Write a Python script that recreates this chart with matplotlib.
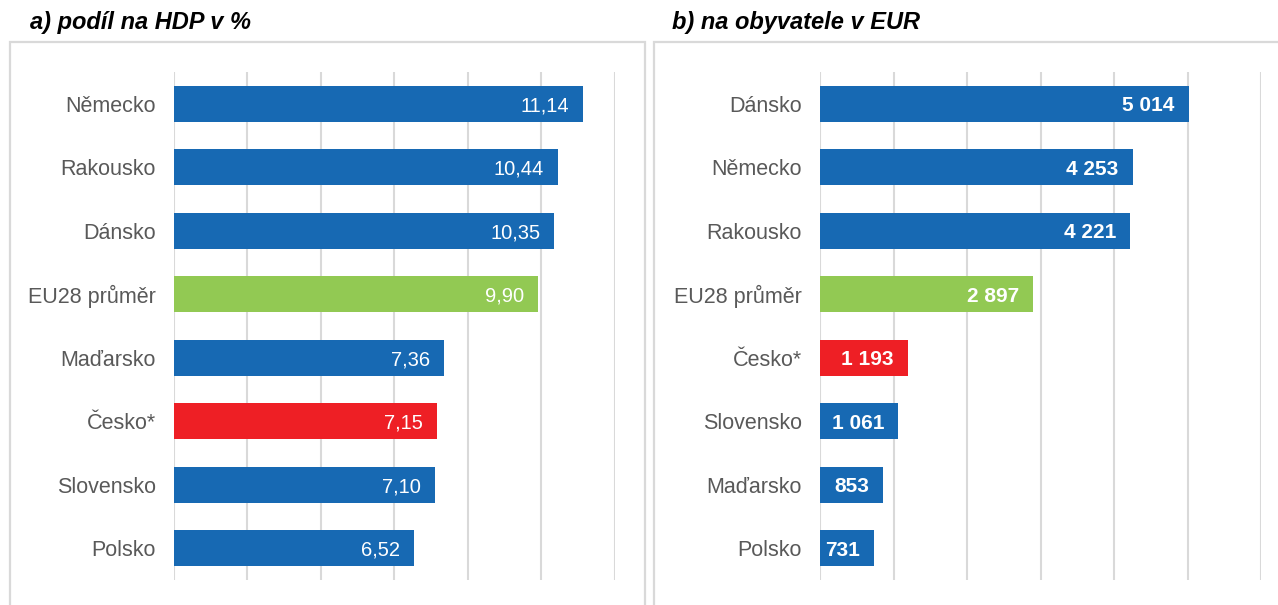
import matplotlib.pyplot as plt
from matplotlib.patches import Rectangle

plt.rcParams['font.family'] = ['Liberation Sans', 'DejaVu Sans']

# a) share of GDP in %
hdp_labels = ['Německo', 'Rakousko', 'Dánsko', 'EU28 průměr',
              'Maďarsko', 'Česko*', 'Slovensko', 'Polsko']
hdp_values = [11.14, 10.44, 10.35, 9.90, 7.36, 7.15, 7.10, 6.52]

# b) per capita in EUR
eur_labels = ['Dánsko', 'Německo', 'Rakousko', 'EU28 průměr',
              'Česko*', 'Slovensko', 'Maďarsko', 'Polsko']
eur_values = [5014, 4253, 4221, 2897, 1193, 1061, 853, 731]

BLUE = '#1769b3'
GREEN = '#92c953'
RED = '#ee1f25'
GRID = '#d9d9d9'


def bar_color(name):
    if name.startswith('EU28'):
        return GREEN
    if name.startswith('Česko'):
        return RED
    return BLUE


W, H = 1278, 605
fig = plt.figure(figsize=(W / 100, H / 100), dpi=100)


def px_axes(x0, x1, y0, y1):
    return fig.add_axes([x0 / W, 1 - y1 / H, (x1 - x0) / W, (y1 - y0) / H])


# panel frames
for x0, x1 in [(10, 645), (654, 1290)]:
    fig.patches.append(Rectangle((x0 / W, -0.05), (x1 - x0) / W, 1.05 - 42 / H,
                                 transform=fig.transFigure, fill=False,
                                 edgecolor=GRID, linewidth=1.6))

fig.text(30 / W, 1 - 23 / H, 'a) podíl na HDP v %', fontsize=17,
         fontweight='bold', fontstyle='italic', va='center', ha='left')
fig.text(672 / W, 1 - 23 / H, 'b) na obyvatele v EUR', fontsize=17,
         fontweight='bold', fontstyle='italic', va='center', ha='left')


def draw(ax, labels, values, xmax, step, fmt, bold):
    y = range(len(labels))
    colors = [bar_color(l) for l in labels]
    ax.barh(y, values, height=0.57, color=colors, zorder=2)
    ax.set_ylim(len(labels) - 0.5, -0.5)
    ax.set_xlim(0, xmax)
    ax.set_xticks([i * step for i in range(int(xmax / step) + 1)])
    ax.grid(axis='x', color=GRID, linewidth=1.5, zorder=0)
    ax.tick_params(axis='x', length=0, labelbottom=False)
    ax.tick_params(axis='y', length=0, pad=13, labelsize=15.5, labelcolor='#595959')
    ax.set_yticks(list(y))
    ax.set_yticklabels(labels)
    for s in ax.spines.values():
        s.set_visible(False)
    for yi, v in zip(y, values):
        ax.annotate(fmt(v), (v, yi), xytext=(-10, 0), textcoords='offset points',
                    ha='right', va='center_baseline', color='white',
                    fontsize=15 if bold else 14.5,
                    fontweight='bold' if bold else 'normal')


ax1 = px_axes(174, 615, 72, 580)
draw(ax1, hdp_labels, hdp_values, 12, 2,
     lambda v: f'{v:.2f}'.replace('.', ','), False)

ax2 = px_axes(820, 1261, 72, 580)
draw(ax2, eur_labels, eur_values, 6000, 1000,
     lambda v: f'{v:,}'.replace(',', ' '), True)

fig.savefig('out.png', dpi=100)
